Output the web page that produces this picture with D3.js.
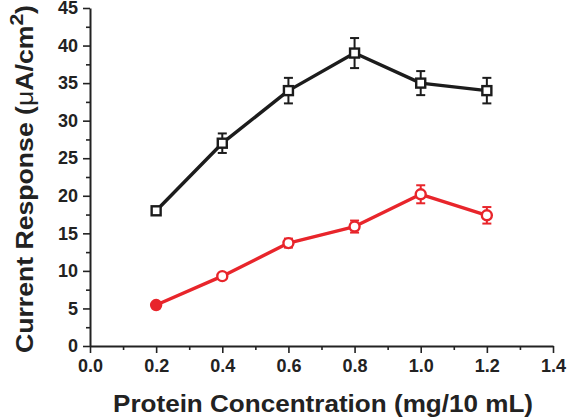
<!DOCTYPE html>
<html>
<head>
<meta charset="utf-8">
<script src="https://cdn.jsdelivr.net/npm/d3@7"></script>
<style>
  body { margin: 0; background: #fff; }
  svg { display: block; font-family: "Liberation Sans", Arial, sans-serif; }
</style>
</head>
<body>
<svg id="chart" width="568" height="420"></svg>
<script>
// Data
const concentration = [0.2, 0.4, 0.6, 0.8, 1.0, 1.2];
const blackValues = [18.0, 27.0, 34.0, 39.0, 35.0, 34.0];
const blackErrors = [0.5, 1.3, 1.7, 2.0, 1.6, 1.7];
const redValues = [5.45, 9.3, 13.7, 15.9, 20.2, 17.4];
const redErrors = [0.3, 0.3, 0.6, 0.8, 1.2, 1.1];
const xTicks = [0.0, 0.2, 0.4, 0.6, 0.8, 1.0, 1.2, 1.4];
const yTicks = [0, 5, 10, 15, 20, 25, 30, 35, 40, 45];

// Layout
const plotLeft = 90, plotRight = 553, plotTop = 8, plotBottom = 346;
const ink = "#222222";
const red = "#e8252b";

let svg = d3.select("#chart");

let x = d3.scaleLinear().domain([0, 1.4]).range([plotLeft, plotRight]);
let y = d3.scaleLinear().domain([0, 45]).range([plotBottom, plotTop]);

// Minor ticks
let xMinor = d3.range(0.1, 1.4, 0.2);
let yMinor = d3.range(2.5, 45, 5);

svg.append("g")
    .attr("transform", `translate(0,${plotBottom})`)
    .call(d3.axisBottom(x).tickValues(xTicks).tickFormat(d3.format(".1f"))
      .tickSize(7).tickPadding(6).tickSizeOuter(0));
svg.append("g")
    .attr("transform", `translate(0,${plotBottom})`)
    .call(d3.axisBottom(x).tickValues(xMinor).tickFormat("").tickSize(4).tickSizeOuter(0))
    .select(".domain").remove();

svg.append("g")
    .attr("transform", `translate(${plotLeft},0)`)
    .call(d3.axisLeft(y).tickValues(yTicks).tickSize(7).tickPadding(5).tickSizeOuter(0));
svg.append("g")
    .attr("transform", `translate(${plotLeft},0)`)
    .call(d3.axisLeft(y).tickValues(yMinor).tickFormat("").tickSize(4).tickSizeOuter(0))
    .select(".domain").remove();

svg.selectAll(".domain").attr("stroke", ink).attr("stroke-width", 2);
svg.selectAll(".tick line").attr("stroke", ink).attr("stroke-width", 1.6);
svg.selectAll(".tick text")
    .attr("fill", ink)
    .attr("font-size", 18)
    .attr("font-weight", "bold")
    .attr("font-family", "Liberation Sans, Arial, sans-serif");

// Series drawing
function drawSeries(values, errors, colour, shape) {
  let g = svg.append("g");
  let line = d3.line().x((d, i) => x(concentration[i])).y(d => y(d));
  g.append("path")
      .datum(values)
      .attr("d", line)
      .attr("fill", "none")
      .attr("stroke", colour)
      .attr("stroke-width", 3.4)
      .attr("stroke-linejoin", "round");
  // Error bars
  let eb = g.selectAll(".eb").data(values).join("g");
  eb.append("line")
      .attr("x1", (d, i) => x(concentration[i]))
      .attr("x2", (d, i) => x(concentration[i]))
      .attr("y1", (d, i) => y(d - errors[i]))
      .attr("y2", (d, i) => y(d + errors[i]))
      .attr("stroke", colour).attr("stroke-width", 2);
  [-1, 1].forEach(s => {
    eb.append("line")
        .attr("x1", (d, i) => x(concentration[i]) - 4.5)
        .attr("x2", (d, i) => x(concentration[i]) + 4.5)
        .attr("y1", (d, i) => y(d + s * errors[i]))
        .attr("y2", (d, i) => y(d + s * errors[i]))
        .attr("stroke", colour).attr("stroke-width", 2);
  });
  // Markers
  if (shape === "square") {
    g.selectAll(".m").data(values).join("rect")
        .attr("x", (d, i) => x(concentration[i]) - 4.5)
        .attr("y", d => y(d) - 4.5)
        .attr("width", 9).attr("height", 9)
        .attr("fill", "#fff")
        .attr("stroke", colour).attr("stroke-width", 2.4);
  } else {
    g.selectAll(".m").data(values).join("circle")
        .attr("cx", (d, i) => x(concentration[i]))
        .attr("cy", d => y(d))
        .attr("r", 5)
        .attr("fill", (d, i) => i === 0 ? colour : "#fff")
        .attr("stroke", colour).attr("stroke-width", 2.4);
  }
}

drawSeries(blackValues, blackErrors, "#1c1c1c", "square");
drawSeries(redValues, redErrors, red, "circle");

// Axis titles
svg.append("text")
    .attr("x", 323)
    .attr("y", 412)
    .attr("text-anchor", "middle")
    .attr("font-size", 24)
    .attr("font-weight", "bold")
    .attr("fill", ink)
    .attr("textLength", 420)
    .attr("lengthAdjust", "spacingAndGlyphs")
    .text("Protein Concentration (mg/10 mL)");

let yTitle = svg.append("text")
    .attr("transform", "translate(33,179) rotate(-90)")
    .attr("text-anchor", "middle")
    .attr("font-size", 24)
    .attr("font-weight", "bold")
    .attr("fill", ink)
    .attr("textLength", 348)
    .attr("lengthAdjust", "spacingAndGlyphs");
yTitle.append("tspan").text("Current Response (");
yTitle.append("tspan").attr("font-weight", "normal").text("μ");
yTitle.append("tspan").text("A/cm");
yTitle.append("tspan").attr("font-size", 19).attr("dy", -10).text("2");
yTitle.append("tspan").attr("dy", 10).text(")");
</script>
</body>
</html>
